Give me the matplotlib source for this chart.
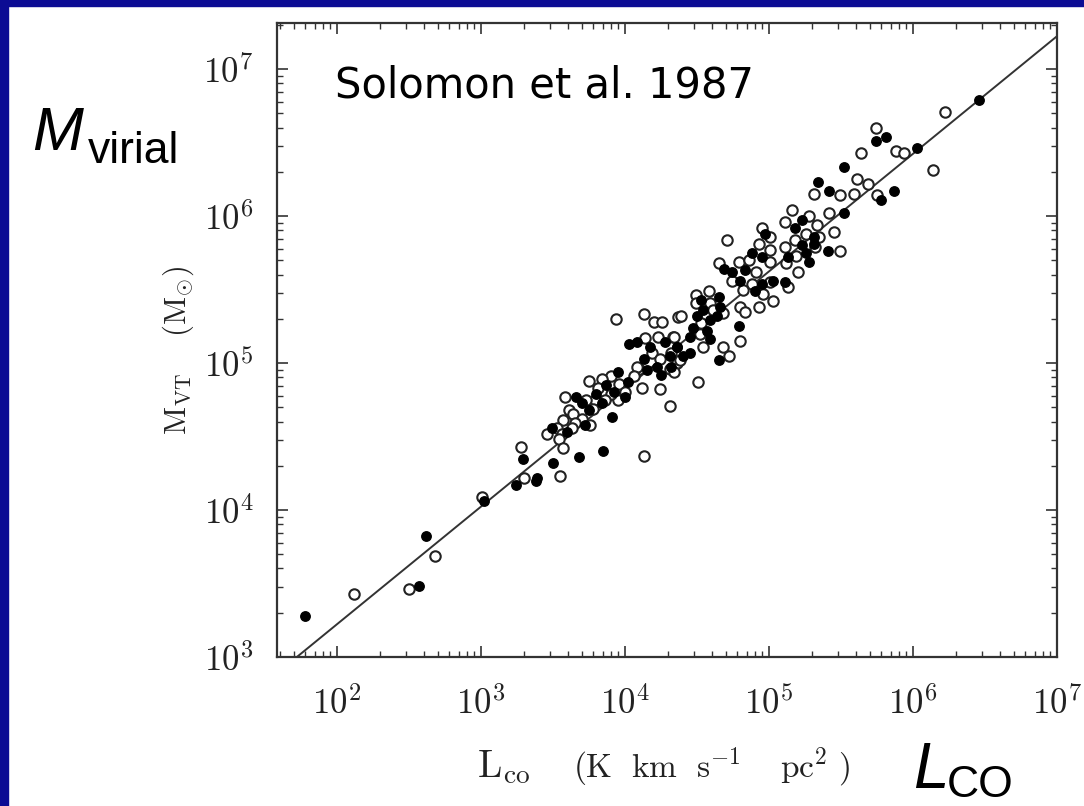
import numpy as np
import matplotlib
matplotlib.use("Agg")
import matplotlib.pyplot as plt
from matplotlib.patches import Rectangle
from matplotlib.ticker import LogLocator, FixedLocator, FixedFormatter, NullFormatter

plt.rcParams["mathtext.fontset"] = "cm"

W, H = 1084, 806

# log10 L_CO, log10 M_VT
open_logL = [2.12, 3.28, 3.30, 3.01, 2.68, 2.50,
             3.94, 4.13, 4.20, 4.26, 4.37, 4.14, 4.23, 4.33, 4.19, 4.24, 4.31, 4.10, 4.36, 4.08,
             4.12, 4.24, 4.31, 3.90, 4.06, 3.96, 4.00, 3.95, 3.75, 3.84, 3.81, 3.90, 3.86, 3.79,
             3.58, 3.73, 3.61, 3.78, 3.64, 3.70, 3.76, 3.65, 3.63, 3.57, 3.46, 3.53, 3.56, 3.54,
             3.57, 4.13, 3.55,
             4.71, 4.65, 4.79, 4.74, 4.95, 5.01, 4.93, 5.01, 4.86, 5.01, 4.91, 4.88, 5.01, 4.82,
             4.96, 5.03, 4.93, 4.80, 4.83, 5.13, 5.16, 5.28, 5.11, 5.33, 5.26, 5.18, 5.11, 5.32,
             5.19, 5.12, 5.20, 4.49, 4.58, 4.59, 4.49, 4.61, 4.39, 4.53, 4.68, 4.52, 4.54, 4.34,
             4.32, 4.38, 4.34, 4.80, 4.68, 4.72, 4.51,
             6.22, 5.74, 5.64, 5.88, 5.94, 6.14, 5.61, 5.69, 5.31, 5.59, 5.49, 5.75, 5.42, 5.45,
             5.49, 5.35]
open_logM = [3.43, 4.43, 4.22, 4.09, 3.69, 3.46,
             5.30, 5.33, 5.28, 5.28, 5.31, 5.17, 5.18, 5.18, 5.07, 5.03, 4.96, 4.96, 5.00, 4.97,
             4.83, 4.82, 4.71, 4.91, 4.91, 4.86, 4.80, 4.75, 4.88, 4.89, 4.83, 4.79, 4.75, 4.75,
             4.77, 4.75, 4.68, 4.69, 4.65, 4.62, 4.58, 4.59, 4.56, 4.61, 4.52, 4.56, 4.52, 4.48,
             4.42, 4.37, 4.23,
             5.84, 5.68, 5.69, 5.56, 5.92, 5.86, 5.81, 5.77, 5.70, 5.69, 5.62, 5.54, 5.55, 5.50,
             5.47, 5.42, 5.38, 5.38, 5.35, 5.52, 6.04, 6.00, 5.96, 5.94, 5.88, 5.84, 5.79, 5.79,
             5.73, 5.68, 5.62, 5.46, 5.49, 5.41, 5.41, 5.36, 5.32, 5.27, 5.34, 5.20, 5.11, 5.18,
             5.07, 5.02, 4.94, 5.15, 5.11, 5.05, 4.87,
             6.71, 6.60, 6.43, 6.44, 6.43, 6.31, 6.25, 6.22, 6.15, 6.15, 6.14, 6.14, 6.02, 5.89,
             5.76, 5.86]

filled_logL = [1.78, 3.29, 3.24, 3.38, 3.02, 2.62, 2.57,
               4.03, 4.08, 4.17, 4.28, 4.36, 4.13, 4.31, 4.22, 4.15, 4.25, 3.95, 4.02, 4.00,
               3.87, 3.80, 3.92, 3.84, 3.66, 3.70, 3.75, 3.72, 3.91, 3.49, 3.60, 3.68, 3.85,
               3.50, 3.39,
               4.69, 4.74, 4.97, 4.88, 4.95, 4.83, 4.80, 4.95, 5.03, 4.90, 5.11, 5.23, 5.18,
               5.31, 5.23, 5.13, 5.26, 5.28, 4.53, 4.65, 4.54, 4.66, 4.50, 4.59, 4.64, 4.47,
               4.57, 4.45, 4.59, 4.36, 4.40, 4.45, 4.32, 4.79, 4.65,
               6.46, 5.74, 5.81, 6.03, 5.52, 5.34, 5.42, 5.78, 5.87, 5.52, 5.41, 5.31]
filled_logM = [3.28, 4.35, 4.17, 4.20, 4.06, 3.82, 3.48,
               5.13, 5.14, 5.11, 5.14, 5.11, 5.03, 5.05, 4.97, 4.95, 4.92, 4.94, 4.87, 4.77,
               4.85, 4.79, 4.80, 4.73, 4.77, 4.73, 4.68, 4.58, 4.63, 4.56, 4.53, 4.36, 4.40,
               4.32, 4.22,
               5.64, 5.62, 5.88, 5.75, 5.72, 5.63, 5.56, 5.54, 5.56, 5.49, 5.55, 5.97, 5.92,
               5.86, 5.80, 5.72, 5.75, 5.69, 5.43, 5.45, 5.36, 5.38, 5.32, 5.29, 5.32, 5.24,
               5.22, 5.18, 5.16, 5.11, 5.05, 5.07, 4.97, 5.25, 5.02,
               6.79, 6.51, 6.54, 6.46, 6.33, 6.23, 6.17, 6.11, 6.17, 6.02, 5.76, 5.81]

# fitted line M_VT = coef * L_CO^slope, as drawn in the figure
fit_coef = 42.0
fit_slope = 0.80
fit_L = [30.0, 2.0e7]

x_ticks = [1e2, 1e3, 1e4, 1e5, 1e6, 1e7]
x_labels = [r"$10^{2}$", r"$10^{3}$", r"$10^{4}$", r"$10^{5}$", r"$10^{6}$", r"$10^{7}$"]
y_ticks = [1e3, 1e4, 1e5, 1e6, 1e7]
y_labels = [r"$10^{3}$", r"$10^{4}$", r"$10^{5}$", r"$10^{6}$", r"$10^{7}$"]


def px(x, y):
    return x / W, 1 - y / H


fig = plt.figure(figsize=(W / 100, H / 100), dpi=100)
fig.patch.set_facecolor("white")
navy = "#0c0c94"
fig.patches.append(Rectangle((0, 1 - 6 / H), 1, 6 / H, transform=fig.transFigure,
                             color=navy, zorder=0))
fig.patches.append(Rectangle((0, 0), 8 / W, 1, transform=fig.transFigure,
                             color=navy, zorder=0))

ax = fig.add_axes([277 / W, 1 - 657 / H, 780 / W, 634 / H])
ax.set_xscale("log")
ax.set_yscale("log")
ax.set_xlim(10 ** 1.583, 1e7)
ax.set_ylim(1e3, 10 ** 7.313)

fl = np.array(fit_L)
ax.plot(fl, fit_coef * fl ** fit_slope, color="#333333", lw=1.4, zorder=1)

ax.plot(10 ** np.array(open_logL), 10 ** np.array(open_logM), "o", ms=7.5,
        mfc="white", mec="#222222", mew=1.5, ls="none", zorder=2)
ax.plot(10 ** np.array(filled_logL), 10 ** np.array(filled_logM), "o", ms=6.8,
        mfc="black", mec="black", mew=1.0, ls="none", zorder=3)

ax.xaxis.set_major_locator(FixedLocator(x_ticks))
ax.xaxis.set_major_formatter(FixedFormatter(x_labels))
ax.yaxis.set_major_locator(FixedLocator(y_ticks))
ax.yaxis.set_major_formatter(FixedFormatter(y_labels))
ax.xaxis.set_minor_locator(LogLocator(base=10, subs=np.arange(2, 10), numticks=20))
ax.yaxis.set_minor_locator(LogLocator(base=10, subs=np.arange(2, 10), numticks=20))
ax.xaxis.set_minor_formatter(NullFormatter())
ax.yaxis.set_minor_formatter(NullFormatter())
ax.tick_params(which="both", direction="in", top=True, right=True, color="#333333")
ax.tick_params(which="major", length=8, width=1.2, labelsize=25, labelcolor="#222222")
ax.tick_params(axis="x", which="major", pad=21)
ax.tick_params(axis="y", which="major", pad=17)
ax.tick_params(which="minor", length=4, width=1.0)
for s in ax.spines.values():
    s.set_color("#333333")
    s.set_linewidth(1.6)

# x axis caption, in pieces spaced like the scan
fig.text(*px(477, 777), r"$\mathrm{L_{co}}$", fontsize=28, va="baseline", color="#222222")
fig.text(*px(573, 777), r"$(\mathrm{K\ \ km\ \ s^{-1}}$", fontsize=24, va="baseline",
         color="#222222")
fig.text(*px(780, 777), r"$\mathrm{pc^{2}}\ )$", fontsize=24, va="baseline", color="#222222")

ax.set_ylabel(r"$\mathrm{M_{VT}}\quad\ (\mathrm{M}_{\odot})$", fontsize=22, color="#222222")
ax.yaxis.set_label_coords(-0.104, 0.484)

sans = "Liberation Sans"
fig.text(*px(32, 150), "M", family=sans, style="italic", fontsize=44, va="baseline")
fig.text(*px(88, 163), "virial", family=sans, fontsize=32, va="baseline")
fig.text(*px(913, 788), "L", family=sans, style="italic", fontsize=46, va="baseline")
fig.text(*px(947, 797), "CO", family=sans, fontsize=32, va="baseline")
fig.text(*px(335, 97), "Solomon et al. 1987", family="DejaVu Sans", fontsize=30,
         va="baseline")

fig.savefig("out.png", dpi=100, facecolor=fig.get_facecolor())
